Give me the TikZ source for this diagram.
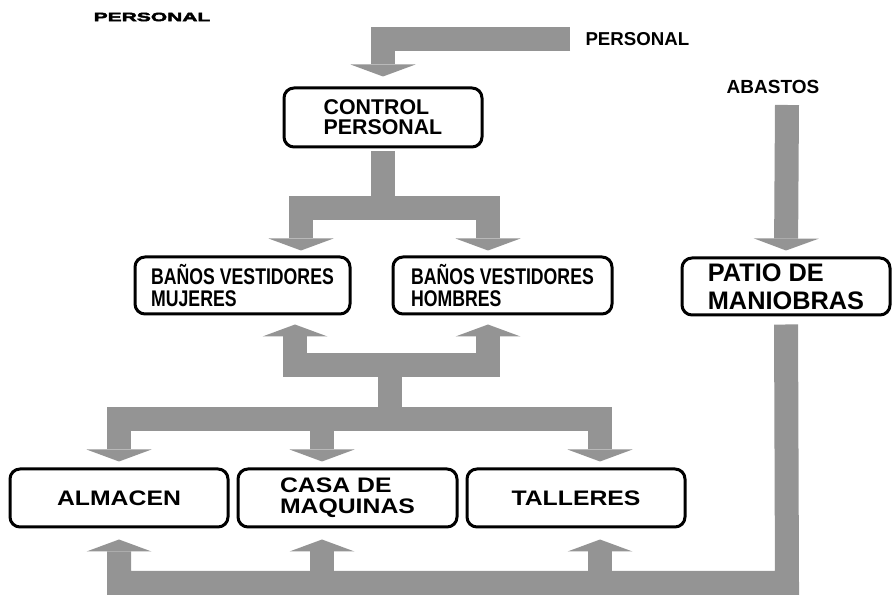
\documentclass[tikz,border=0pt]{standalone}
\usepackage{fontspec}
\setmainfont{Liberation Sans}
\newfontfamily\narrowfont[FakeStretch=0.78]{Liberation Sans}
\newfontfamily\widefont[FakeStretch=1.18]{Liberation Sans}
\newfontfamily\heavyfont[FakeStretch=1.75,FakeBold=4]{Liberation Sans}
\usetikzlibrary{arrows.meta,calc}
\tikzset{every picture/.style={line width=0.75pt}}
\tikzset{
  area/.style={draw, line width=2.25pt, rounded corners=7.5pt, align=left, inner sep=0pt, font=\bfseries},
  flow/.style={draw=black!42, line width=18pt, -{Triangle[width=48.75pt,length=9pt,line width=0pt]}},
}
\begin{document}
\begin{tikzpicture}[x=0.75pt,y=0.75pt,yscale=-1,xscale=1]
\useasboundingbox (0,0) rectangle (894,595);

% Text Node
\node[font=\heavyfont\bfseries\fontsize{9}{10}\selectfont] (lblpers) at (152,17) {PERSONAL};
% Text Node
\node[anchor=west, font=\bfseries\fontsize{14}{16}\selectfont, inner sep=0pt] (lblin) at (585,39) {PERSONAL};
% Text Node
\node[font=\bfseries\fontsize{14.25}{16}\selectfont, inner sep=0pt] (lblabast) at (773,87) {ABASTOS};

%Shape: Rounded Rect
\node[area, minimum width=148.5pt, minimum height=44.25pt, font=\bfseries\fontsize{16}{15}\selectfont] (ctrl) at (383,117.5) {CONTROL\\PERSONAL};
\node[area, minimum width=161.25pt, minimum height=42.75pt, font=\narrowfont\bfseries\fontsize{17}{16.5}\selectfont] (muj) at (242.5,285.5) {BAÑOS VESTIDORES\\MUJERES};
\node[area, minimum width=164.25pt, minimum height=42.75pt, font=\narrowfont\bfseries\fontsize{17}{16.5}\selectfont] (hom) at (502.5,285.5) {BAÑOS VESTIDORES\\HOMBRES};
\node[area, minimum width=156pt, minimum height=42.75pt, font=\bfseries\fontsize{19}{21}\selectfont] (patio) at (786,286.5) {PATIO DE\\MANIOBRAS};
\node[area, minimum width=163.5pt, minimum height=43.5pt, font=\widefont\bfseries\fontsize{15.75}{15}\selectfont] (alm) at (119,498) {ALMACEN};
\node[area, minimum width=164.25pt, minimum height=43.5pt, font=\widefont\bfseries\fontsize{15.75}{15.5}\selectfont] (casa) at (347.5,498) {CASA DE\\MAQUINAS};
\node[area, minimum width=163.5pt, minimum height=43.5pt, font=\widefont\bfseries\fontsize{15.75}{15}\selectfont] (tall) at (576,498) {TALLERES};

% free ends and junctions
\coordinate (src) at (570,39);
\coordinate (abast) at (787,105);
\coordinate (hubU) at (390,365);
\coordinate (hubD) at (390,419);
\coordinate (base) at (787,583);

%Straight Lines
\draw[flow, shorten >=7.5pt] (src) -| (ctrl.north);
\draw[flow, shorten <=2.25pt, shorten >=3.75pt] (ctrl.south) -- ++(0,60) -| ($(muj.north)+(58.5,0)$);
\draw[flow, shorten <=2.25pt, shorten >=3.75pt] (ctrl.south) -- ++(0,60) -| ($(hom.north)+(-14.5,0)$);
\draw[flow, shorten >=6.75pt] (hubD) -- (hubU) -| ($(muj.south)+(52.5,0)$);
\draw[flow, shorten >=6.75pt] (hubD) -- (hubU) -| ($(hom.south)+(-14.5,0)$);
\draw[flow, shorten >=4.5pt] (hubU) -- (hubD) -| (alm.north);
\draw[flow, shorten >=4.5pt] (hubD) -| ($(casa.north)+(-25.5,0)$);
\draw[flow, shorten >=4.5pt] (hubD) -| ($(tall.north)+(24,0)$);
\draw[flow, shorten >=4.5pt] (abast) -- (patio.north);
\draw[flow, shorten <=6pt, shorten >=8.25pt] (patio.south) -- (base) -| (alm.south);
\draw[flow, shorten >=8.25pt] (base) -| ($(casa.south)+(-25.5,0)$);
\draw[flow, shorten >=8.25pt] (base) -| ($(tall.south)+(24,0)$);
\end{tikzpicture}
\end{document}
